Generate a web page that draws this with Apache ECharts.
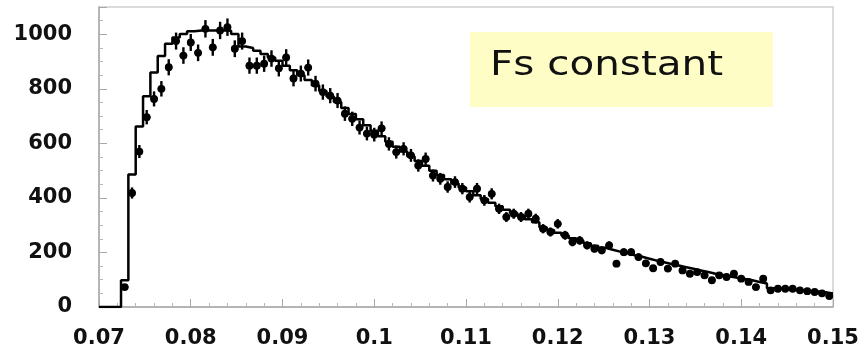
<!DOCTYPE html>
<html>
<head>
<meta charset="utf-8">
<script src="https://cdn.jsdelivr.net/npm/echarts@6/dist/echarts.min.js"></script>
<style>
html,body{margin:0;padding:0;background:#fff;}
#chart{width:863px;height:354px;}
</style>
</head>
<body>
<div id="chart"></div>
<script>
// Histogram range
const HIST_MIN = 0.07;
const HIST_MAX = 0.15;
const NBINS = 100;

// Model histogram (step line), one value per bin
const modelCounts = [
  0,0,0,98,486,662,773,860,920,965,
  988,1001,1011,1014,1014,1014,1014,1013,1001,955,
  950,940,928,915,903,885,868,850,832,812,
  792,772,752,730,708,688,666,646,626,606,
  588,570,552,535,518,500,484,468,453,438,
  424,410,396,382,369,357,345,334,322,311,
  292,282,272,262,252,243,234,225,217,210,
  203,197,190,184,177,170,164,158,152,146,
  140,134,128,122,117,112,107,103,98,92,
  86,69,67,65,63,61,59,57,54,50
];

// Data points (with Poisson error bars), one value per bin
const dataCounts = [
  null,null,null,73,418,570,696,763,800,879,
  975,922,970,932,1020,952,1014,1026,947,975,
  885,885,892,911,875,915,838,856,878,819,
  788,775,757,709,690,658,636,632,655,598,
  568,580,556,519,543,482,470,440,458,434,
  403,434,391,415,360,330,342,330,342,324,
  287,275,305,263,238,244,226,214,208,226,
  159,201,201,183,160,142,165,141,159,134,
  122,128,116,98,116,110,122,104,92,73,
  104,61,67,67,67,61,58,55,50,40
];

const yTickLabels = ['0','200','400','600','800','1000'];
const xTickLabels = ['0.07','0.08','0.09','0.1','0.11','0.12','0.13','0.14','0.15'];
const labelText = 'Fs constant';

const binW = (HIST_MAX - HIST_MIN) / NBINS;
const histLine = [];
for (let i = 0; i < NBINS; i++) histLine.push([HIST_MIN + i * binW, modelCounts[i]]);
histLine.push([HIST_MAX, modelCounts[NBINS - 1]]);

const pts = [];
for (let i = 0; i < NBINS; i++) {
  if (dataCounts[i] != null) pts.push([HIST_MIN + (i + 0.5) * binW, dataCounts[i]]);
}

const chart = echarts.init(document.getElementById('chart'));
const labelFont = { fontFamily: 'DejaVu Sans', fontWeight: 'bold', fontSize: 21, color: '#111' };

chart.setOption({
  animation: false,
  backgroundColor: '#fff',
  grid: { left: 99, right: 30, top: 7, bottom: 47, show: true, borderColor: '#d0d0d0', borderWidth: 1.5 },
  xAxis: {
    type: 'value', min: 0.07, max: 0.15, interval: 0.01,
    axisLine: { show: true, onZero: false, lineStyle: { color: '#a8a8a8', width: 1.5 } },
    axisTick: { show: true, inside: true, length: 8, lineStyle: { color: '#a8a8a8' } },
    minorTick: { show: true, splitNumber: 5, length: 4, lineStyle: { color: '#b8b8b8' } },
    splitLine: { show: false },
    axisLabel: Object.assign({ margin: 21, formatter: v => {
      const s = (+v.toFixed(2)).toString();
      return xTickLabels.indexOf(s) >= 0 ? s : '';
    } }, labelFont)
  },
  yAxis: {
    type: 'value', min: 0, max: 1100, interval: 200,
    axisLine: { show: true, lineStyle: { color: '#a8a8a8', width: 1.5 } },
    axisTick: { show: true, inside: true, length: 8, lineStyle: { color: '#a8a8a8' } },
    minorTick: { show: true, splitNumber: 4, length: 4, lineStyle: { color: '#b8b8b8' } },
    splitLine: { show: false },
    axisLabel: Object.assign({ margin: 27, showMaxLabel: false, formatter: v => {
      const s = String(Math.round(v));
      return yTickLabels.indexOf(s) >= 0 ? s : '';
    } }, labelFont)
  },
  series: [
    {
      type: 'line', data: histLine, step: 'end', showSymbol: false, symbol: 'none',
      lineStyle: { color: '#000', width: 2.5 }, z: 2
    },
    {
      type: 'custom', data: pts, z: 3,
      renderItem: function (params, api) {
        const x = api.value(0), y = api.value(1);
        const e = Math.sqrt(y);
        const c = api.coord([x, y]);
        const t = api.coord([x, y + e]);
        const b = api.coord([x, y - e]);
        const hw = api.size([binW, 0])[0] / 2;
        return {
          type: 'group',
          children: [
            { type: 'line', shape: { x1: c[0], y1: t[1], x2: c[0], y2: b[1] }, style: { stroke: '#000', lineWidth: 2.4 } },
            { type: 'line', shape: { x1: c[0] - hw, y1: c[1], x2: c[0] + hw, y2: c[1] }, style: { stroke: '#000', lineWidth: 2.4 } },
            { type: 'circle', shape: { cx: c[0], cy: c[1], r: 3.9 }, style: { fill: '#000' } }
          ]
        };
      }
    }
  ],
  graphic: [
    { type: 'rect', left: 470, top: 32, shape: { width: 303, height: 75 }, style: { fill: '#fefdc6' }, z: 10 },
    { type: 'text', x: 490, y: 66, scaleX: 1.19, z: 11,
      style: { text: labelText, fontFamily: 'DejaVu Sans', fontSize: 34, fill: '#111', textVerticalAlign: 'middle', verticalAlign: 'middle' } }
  ]
});
</script>
</body>
</html>
